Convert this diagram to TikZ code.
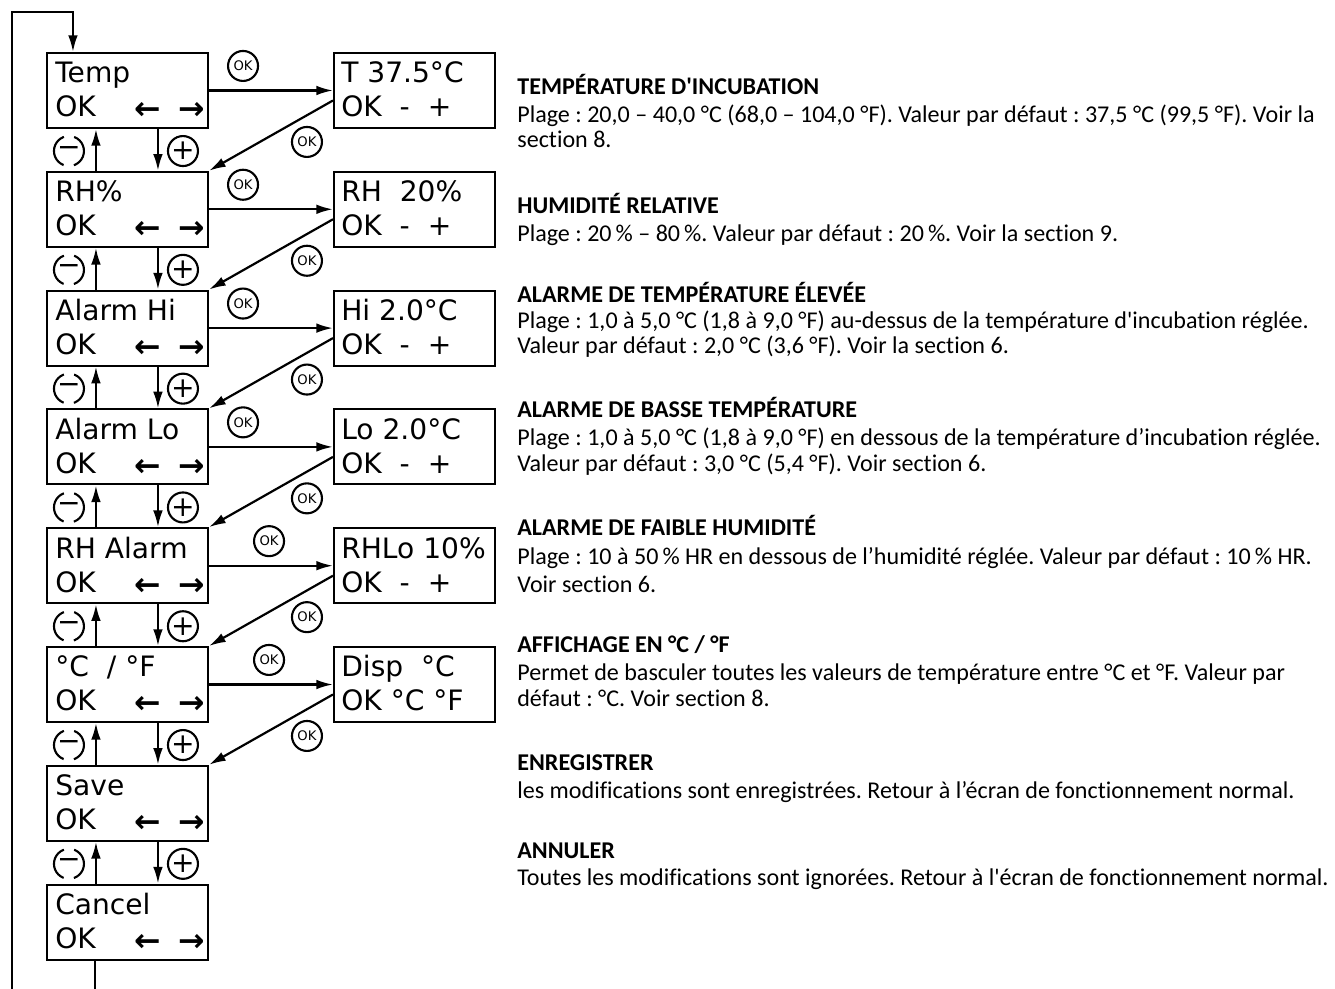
\documentclass[tikz,border=0pt]{standalone}
\usepackage{fontspec}
\newfontfamily\notefont{Carlito}[Ligatures=CommonOff]
\newfontfamily\lcdfont{DejaVu Sans}
\usetikzlibrary{arrows.meta,calc}
\frenchspacing

\begin{document}
\begin{tikzpicture}[x=0.02cm,y=-0.02cm,
  screen/.style={draw, line width=1.2pt, minimum width=3.22cm, minimum height=1.5cm, inner sep=0pt},
  lcd/.style={anchor=base west, inner sep=0pt, font=\lcdfont\fontsize{16}{18}\selectfont},
  flow/.style={line width=1.25pt, -{Latex[length=9.5pt,width=5.5pt]}},
  okbtn/.style={circle, draw, line width=1.2pt, minimum size=0.6cm, inner sep=0pt, font=\lcdfont\fontsize{7.5}{7.5}\selectfont},
  plusbtn/.style={circle, draw, line width=1.2pt, minimum size=0.6cm, inner sep=0pt, font=\lcdfont\fontsize{16}{16}\selectfont},
  minusbtn/.style={plusbtn, dash pattern=on 20.76pt off 5.93pt, dash phase=10.38pt},
  head/.style={anchor=base west, inner sep=0pt, font=\notefont\bfseries\fontsize{13.7}{16}\selectfont},
  body/.style={anchor=base west, inner sep=0pt, font=\notefont\fontsize{13.7}{16}\selectfont}]

\useasboundingbox (0,0) rectangle (1335,989);
\clip (0,0) rectangle (1335,989);

% menu screens
\foreach \nm/\txt [count=\i from 0] in {temp/Temp, rh/RH\%, alhi/Alarm Hi, allo/Alarm Lo, rhal/RH Alarm, unit/{°C\ \ /\ °F}, save/Save, cancel/Cancel} {
  \node[screen] (\nm) at (127.5, 90.5+118.8*\i) {};
  \node[lcd] (\nm-a) at ($(\nm.north west)+(9,31)$) {\txt};
  \node[lcd] (\nm-b) at ($(\nm.north west)+(9,65)$) {OK};
  \node[lcd] (\nm-l) at ($(\nm.north west)+(88,68)$) {\fontsize{18}{18}\selectfont\bfseries ←};
  \node[lcd] (\nm-r) at ($(\nm.north west)+(132,68)$) {\fontsize{18}{18}\selectfont\bfseries →};
}

% setting screens
\foreach \nm/\txt/\sub [count=\i from 0] in {tempset/{T 37.5°C}/{OK\ \ -\ \ +}, rhset/{RH\ \ 20\%}/{OK\ \ -\ \ +}, hiset/{Hi 2.0°C}/{OK\ \ -\ \ +}, loset/{Lo 2.0°C}/{OK\ \ -\ \ +}, rhloset/{RHLo 10\%}/{OK\ \ -\ \ +}, dispset/{Disp\ \ °C}/{OK °C °F}} {
  \node[screen] (\nm) at (414.5, 90.5+118.8*\i) {};
  \node[lcd] (\nm-a) at ($(\nm.north west)+(8,31)$) {\txt};
  \node[lcd] (\nm-b) at ($(\nm.north west)+(8,65)$) {\sub};
}

% minus / plus between screens
\foreach \a/\b [count=\i] in {temp/rh, rh/alhi, alhi/allo, allo/rhal, rhal/unit, unit/save, save/cancel} {
  \draw[flow] ($(\b.north west)+(50,0)$) -- ($(\a.south west)+(50,0)$);
  \draw[flow] ($(\a.south west)+(112,0)$) -- ($(\b.north west)+(112,0)$);
  \node[minusbtn] (mi\i) at ($(\a.south west)+(23,22)$) {−};
  \node[plusbtn] (pl\i) at ($(\a.south west)+(137,22)$) {+};
}

% OK into setting and back
\foreach \a/\s/\b/\ox in {temp/tempset/rh/0, rh/rhset/alhi/0, alhi/hiset/allo/0, allo/loset/rhal/0, rhal/rhloset/unit/26, unit/dispset/save/26} {
  \draw[flow] (\a.east) -- (\s.west);
  \draw[flow] ($(\s.west)+(0,10)$) -- (\b.north east);
  \node[okbtn] (ok-\a) at ($(\a.north east)+(34+\ox,14)$) {OK};
  \node[okbtn] (ok-\s) at ($(\s.north west)+(-26,90)$) {OK};
}

% back to the top
\coordinate (lpbot) at (12,1010);
\coordinate (lptop) at (12,12);
\draw[flow] ($(cancel.south west)+(49,0)$) |- (lpbot) -- (lptop) -| ($(temp.north west)+(27,0)$);

% notes
\node[head] (h1) at (517,95) {TEMPÉRATURE D'INCUBATION};
\node[body] (b1a) at (517,123) {Plage : 20,0 – 40,0 °C (68,0 – 104,0 °F). Valeur par défaut : 37,5 °C (99,5 °F). Voir la};
\node[body] (b1b) at (517,148) {section 8.};
\node[head] (h2) at (517,214) {HUMIDITÉ RELATIVE};
\node[body] (b2a) at (517,242) {Plage : 20\,\% – 80\,\%. Valeur par défaut : 20\,\%. Voir la section 9.};
\node[head] (h3) at (517,303) {ALARME DE TEMPÉRATURE ÉLEVÉE};
\node[body] (b3a) at (517,329) {Plage : 1,0 à 5,0 °C (1,8 à 9,0 °F) au-dessus de la température d'incubation réglée.};
\node[body] (b3b) at (517,354) {Valeur par défaut : 2,0 °C (3,6 °F). Voir la section 6.};
\node[head] (h4) at (517,418) {ALARME DE BASSE TEMPÉRATURE};
\node[body] (b4a) at (517,446) {Plage : 1,0 à 5,0 °C (1,8 à 9,0 °F) en dessous de la température d’incubation réglée.};
\node[body] (b4b) at (517,472) {Valeur par défaut : 3,0 °C (5,4 °F). Voir section 6.};
\node[head] (h5) at (517,536) {ALARME DE FAIBLE HUMIDITÉ};
\node[body] (b5a) at (517,564) {Plage : 10 à 50\,\% HR en dessous de l’humidité réglée. Valeur par défaut : 10\,\% HR.};
\node[body] (b5b) at (517,592) {Voir section 6.};
\node[head] (h6) at (517,652) {AFFICHAGE EN °C / °F};
\node[body] (b6a) at (517,680) {Permet de basculer toutes les valeurs de température entre °C et °F. Valeur par};
\node[body] (b6b) at (517,706) {défaut : °C. Voir section 8.};
\node[head] (h7) at (517,770) {ENREGISTRER};
\node[body] (b7a) at (517,798) {les modifications sont enregistrées. Retour à l’écran de fonctionnement normal.};
\node[head] (h8) at (517,858) {ANNULER};
\node[body] (b8a) at (517,885) {Toutes les modifications sont ignorées. Retour à l'écran de fonctionnement normal.};
\end{tikzpicture}
\end{document}
